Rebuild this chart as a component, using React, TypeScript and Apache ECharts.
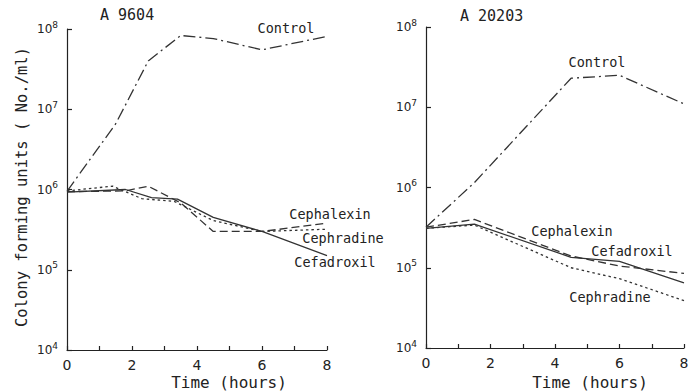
import React, { useEffect, useRef } from "react";
import * as echarts from "echarts";

// Time in hours, colony forming units (No./ml)
const ctrlA: [number, number][] = [[0, 9.5e5], [1.5, 6.6e6], [2.5, 4.0e7], [3.5, 8.3e7], [4.5, 7.6e7], [6, 5.5e7], [8, 8.1e7]];
const cephalexinA: [number, number][] = [[0, 9.4e5], [1.8, 9.6e5], [2.5, 1.1e6], [3.5, 6.8e5], [4.5, 3.0e5], [6, 3.0e5], [8, 3.8e5]];
const cefadroxilA: [number, number][] = [[0, 9.3e5], [1.8, 1.0e6], [2.6, 7.9e5], [3.4, 7.6e5], [4.5, 4.5e5], [6, 3.0e5], [8, 1.5e5]];
const cephradineA: [number, number][] = [[0, 9.6e5], [1.4, 1.1e6], [2.3, 7.7e5], [3.3, 7.1e5], [4.5, 4.1e5], [6, 3.0e5], [8, 3.2e5]];

const ctrlB: [number, number][] = [[0, 3.2e5], [1.5, 1.15e6], [4.5, 2.3e7], [6, 2.5e7], [8, 1.1e7]];
const cephalexinB: [number, number][] = [[0, 3.2e5], [1.5, 4.0e5], [4.5, 1.4e5], [6, 1.05e5], [8, 8.5e4]];
const cefadroxilB: [number, number][] = [[0, 3.1e5], [1.5, 3.5e5], [4.5, 1.35e5], [6, 1.2e5], [8, 6.5e4]];
const cephradineB: [number, number][] = [[0, 3.1e5], [1.5, 3.4e5], [4.5, 1.0e5], [6, 7.3e4], [8, 3.9e4]];

const panelTitles = ["A 9604", "A 20203"];
const xTitle = "Time (hours)";
const yTitle = "Colony forming units ( No./ml)";

const FONT = "DejaVu Sans";
const MONO = "DejaVu Sans Mono";
const INK = "#222";

export default function App() {
  const ref = useRef<HTMLDivElement>(null);
  useEffect(() => {
    if (!ref.current) return;
    const chart = echarts.init(ref.current, null, { renderer: "svg" });

    const xAxisBase = (gridIndex: number) => ({
      type: "value" as const,
      gridIndex,
      min: 0,
      max: 8,
      interval: 1,
      axisLine: { lineStyle: { color: INK, width: 1.2 } },
      axisTick: { inside: true, length: 4, lineStyle: { color: INK, width: 1.2 } },
      splitLine: { show: false },
      axisLabel: {
        formatter: (v: number) => (v % 2 === 0 ? String(v) : ""),
        margin: 8,
        fontSize: 14,
        color: INK,
        fontFamily: FONT,
      },
    });
    const yAxisBase = (gridIndex: number) => ({
      type: "log" as const,
      gridIndex,
      logBase: 10,
      min: 1e4,
      max: 1e8,
      axisLine: { show: true, lineStyle: { color: INK, width: 1.2 } },
      axisTick: { inside: true, length: 5, lineStyle: { color: INK, width: 1.2 } },
      splitLine: { show: false },
      minorTick: { show: false },
      axisLabel: {
        margin: 9,
        formatter: (v: number) => `{a|10}{b|${Math.round(Math.log10(v))}}`,
        rich: {
          a: { fontSize: 12, color: INK, fontFamily: FONT },
          b: { fontSize: 9, color: INK, fontFamily: FONT, padding: [0, 0, 9, 0] },
        },
      },
    });

    const mk = (data: [number, number][], idx: number, type: any) => ({
      type: "line" as const,
      xAxisIndex: idx,
      yAxisIndex: idx,
      data,
      symbol: "none",
      smooth: false,
      lineStyle: { color: "#333", width: 1.3, type },
    });
    const dashDot = [12, 4, 2, 4];
    const dashed = [8, 4];
    const dotted = [2.5, 3];

    const txt = (text: string, x: number, y: number, align = "center", size = 13.5, rotation = 0) => ({
      type: "text" as const,
      x,
      y,
      rotation,
      style: {
        text,
        fill: INK,
        font: `${size}px "${MONO}"`,
        align,
        verticalAlign: "middle",
      },
    });

    chart.setOption({
      animation: false,
      backgroundColor: "#ffffff",
      grid: [
        { left: 67, top: 29, width: 260, height: 321 },
        { left: 426, top: 27, width: 258, height: 321 },
      ],
      xAxis: [xAxisBase(0), xAxisBase(1)],
      yAxis: [yAxisBase(0), yAxisBase(1)],
      series: [
        mk(ctrlA, 0, dashDot),
        mk(cephalexinA, 0, dashed),
        mk(cefadroxilA, 0, "solid"),
        mk(cephradineA, 0, dotted),
        mk(ctrlB, 1, dashDot),
        mk(cephalexinB, 1, dashed),
        mk(cefadroxilB, 1, "solid"),
        mk(cephradineB, 1, dotted),
      ],
      graphic: [
        txt(panelTitles[0], 100, 15, "left", 15),
        txt(panelTitles[1], 460, 16, "left", 15),
        txt("Control", 286, 28),
        txt("Control", 597, 62),
        txt("Cephalexin", 330, 214),
        txt("Cephradine", 343, 238),
        txt("Cefadroxil", 335, 262),
        txt("Cephalexin", 572, 231),
        txt("Cefadroxil", 632, 251),
        txt("Cephradine", 610, 297),
        txt(xTitle, 229, 382, "center", 16),
        txt(xTitle, 590, 382, "center", 16),
        txt(yTitle, 22, 187, "center", 15.5, Math.PI / 2),
      ],
    });
    return () => chart.dispose();
  }, []);
  return (
    <div
      ref={ref}
      style={{ position: "fixed", left: 0, top: 0, width: 692, height: 391, background: "#fff" }}
    />
  );
}
